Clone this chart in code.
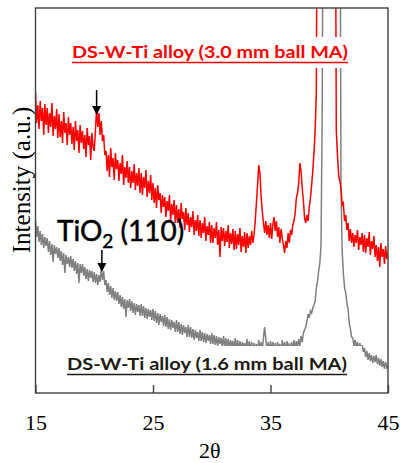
<!DOCTYPE html>
<html>
<head>
<meta charset="utf-8">
<script src="https://cdn.jsdelivr.net/npm/d3@7"></script>
<style>
  body { margin: 0; background: #fff; }
  svg { display: block; }
</style>
</head>
<body>
<div id="chart"></div>
<script>
// XRD scan: 2θ from 15 to 45 in 0.1 steps
const scanStart = 15
const scanStep = 0.1
const xTicks = [15, 25, 35, 45]

// DS-W-Ti alloy (3.0 mm ball MA), one row per degree (600 = off scale)
const red30 = [
  301, 270, 288, 264, 292, 272, 285, 258, 289, 268,
  285, 260, 280, 266, 290, 257, 277, 264, 284, 255,
  279, 256, 272, 250, 281, 260, 270, 248, 276, 258,
  270, 249, 266, 243, 272, 252, 263, 240, 268, 250,
  262, 244, 258, 236, 265, 248, 257, 233, 260, 246,
  242, 262, 285, 266, 280, 258, 272, 252, 258, 238,
  242, 222, 238, 216, 245, 226, 235, 213, 240, 224,
  233, 212, 230, 219, 238, 208, 226, 215, 232, 210,
  226, 205, 222, 210, 229, 203, 220, 207, 225, 200,
  220, 198, 216, 205, 223, 196, 212, 200, 218, 193,
  210, 190, 205, 185, 208, 193, 200, 180, 198, 186,
  196, 176, 192, 182, 198, 172, 189, 178, 193, 170,
  188, 170, 184, 165, 190, 174, 181, 163, 185, 168,
  180, 161, 176, 166, 182, 158, 173, 162, 178, 157,
  173, 155, 170, 160, 176, 152, 167, 158, 171, 150,
  168, 150, 165, 155, 171, 148, 163, 136, 166, 152,
  165, 147, 162, 151, 168, 145, 160, 149, 164, 143,
  162, 144, 159, 148, 165, 141, 157, 146, 161, 140,
  160, 145, 157, 148, 162, 150, 158, 172, 190, 208,
  228, 220, 196, 182, 170, 160, 172, 158, 168, 155,
  170, 154, 168, 176, 162, 172, 156, 166, 150, 164,
  155, 148, 140, 152, 145, 160, 150, 163, 158, 168,
  172, 180, 195, 200, 210, 230, 222, 205, 192, 175,
  170, 178, 172, 186, 195, 208, 222, 240, 262, 300,
  600, 600, 600, 600, 600, 600, 600, 600, 600, 600,
  600, 600, 600, 600, 600, 600, 262, 238, 218, 212,
  205, 188, 190, 172, 178, 163, 170, 152, 164, 150,
  160, 146, 158, 150, 163, 143, 156, 148, 160, 141,
  158, 140, 155, 146, 161, 138, 152, 144, 157, 136,
  148, 132, 146, 126, 150, 136, 144, 129, 147, 134,
  140
]

// DS-W-Ti alloy (1.6 mm ball MA)
const gray16 = [
  173, 156, 167, 151, 162, 148, 159, 145, 156, 147,
  155, 141, 152, 138, 149, 131, 148, 139, 146, 135,
  145, 132, 142, 128, 140, 120, 138, 129, 136, 126,
  137, 125, 134, 122, 132, 119, 130, 110, 129, 120,
  129, 117, 126, 114, 124, 112, 123, 115, 122, 111,
  121, 110, 119, 108, 118, 111, 124, 113, 122, 108,
  113, 101, 110, 98, 107, 95, 105, 93, 102, 92,
  101, 89, 98, 86, 96, 84, 94, 76, 93, 85,
  94, 82, 92, 80, 90, 78, 89, 81, 88, 77,
  89, 77, 87, 75, 85, 74, 84, 76, 83, 73,
  84, 72, 82, 70, 80, 68, 79, 71, 77, 67,
  78, 66, 76, 64, 74, 63, 73, 65, 71, 61,
  73, 61, 71, 59, 69, 58, 68, 60, 66, 56,
  68, 56, 66, 55, 64, 53, 63, 55, 61, 52,
  63, 52, 61, 51, 60, 50, 59, 52, 58, 49,
  60, 49, 58, 48, 57, 47, 56, 49, 55, 46,
  57, 46, 55, 45, 54, 44, 53, 46, 52, 43,
  55, 44, 53, 43, 52, 42, 51, 44, 50, 42,
  54, 43, 52, 42, 51, 41, 50, 43, 49, 41,
  53, 42, 51, 43, 55, 66, 54, 42, 51, 41,
  52, 42, 51, 41, 50, 40, 51, 43, 49, 41,
  53, 42, 51, 41, 52, 43, 50, 40, 51, 42,
  53, 43, 52, 45, 54, 47, 57, 51, 60, 63,
  66, 72, 79, 75, 82, 80, 85, 88, 92, 105,
  112, 122, 130, 148, 280, 600, 600, 600, 600, 600,
  600, 600, 600, 600, 600, 600, 600, 600, 600, 600,
  205, 142, 120, 106, 100, 90, 84, 70, 64, 56,
  55, 47, 53, 45, 51, 43, 50, 44, 48, 41,
  45, 36, 42, 33, 40, 32, 38, 30, 37, 31,
  38, 29, 35, 27, 34, 26, 32, 24, 31, 25,
  27
]

const width = 400
const height = 463
const margin = { top: 8, right: 12, bottom: 70, left: 35.5 }

const svg = d3
  .select('#chart')
  .append('svg')
  .attr('width', width)
  .attr('height', height)

const x = d3
  .scaleLinear()
  .domain([15, 45])
  .range([margin.left, width - margin.right])
const y = d3
  .scaleLinear()
  .domain([0, 385])
  .range([height - margin.bottom, margin.top])

svg
  .append('clipPath')
  .attr('id', 'plot-clip')
  .append('rect')
  .attr('x', margin.left)
  .attr('y', margin.top)
  .attr('width', x(45) - x(15))
  .attr('height', y(0) - y(385))

const toPoints = vals => vals.map((v, i) => [scanStart + i * scanStep, v])
const line = d3
  .line()
  .x(d => x(d[0]))
  .y(d => y(d[1]))

const plot = svg.append('g').attr('clip-path', 'url(#plot-clip)')
plot
  .append('path')
  .attr('d', line(toPoints(gray16)))
  .attr('fill', 'none')
  .attr('stroke', '#808080')
  .attr('stroke-width', 1.5)
plot
  .append('path')
  .attr('d', line(toPoints(red30)))
  .attr('fill', 'none')
  .attr('stroke', '#ff0000')
  .attr('stroke-width', 1.5)

// frame
svg
  .append('rect')
  .attr('x', x(15))
  .attr('y', y(385))
  .attr('width', x(45) - x(15))
  .attr('height', y(0) - y(385))
  .attr('fill', 'none')
  .attr('stroke', '#404040')
  .attr('stroke-width', 1.4)

// X axis, ticks pointing in
const xAxis = svg
  .append('g')
  .attr('transform', 'translate(0,' + y(0) + ')')
  .call(
    d3
      .axisBottom(x)
      .tickValues(xTicks)
      .tickSize(-8)
      .tickPadding(21)
      .tickFormat(d3.format('d'))
  )
xAxis.select('.domain').remove()
xAxis.selectAll('line').attr('stroke', '#404040').attr('stroke-width', 1.4)
xAxis
  .selectAll('text')
  .attr('font-family', '"Liberation Serif", "Times New Roman", serif')
  .attr('font-size', 22)
  .attr('fill', '#000')

svg
  .append('text')
  .attr('x', (x(15) + x(45)) / 2 - 2)
  .attr('y', 458)
  .attr('text-anchor', 'middle')
  .attr('font-family', '"Liberation Serif", "Times New Roman", serif')
  .attr('font-size', 22)
  .text('2θ')

svg
  .append('text')
  .attr('transform', 'translate(30,180) rotate(-90)')
  .attr('text-anchor', 'middle')
  .attr('font-family', '"Liberation Serif", "Times New Roman", serif')
  .attr('font-size', 25)
  .text('Intensity (a.u.)')

// series labels on white boxes, underlined
function seriesLabel(txt, cx, baseline, len, color, box) {
  svg
    .append('rect')
    .attr('x', box[0])
    .attr('y', box[1])
    .attr('width', box[2] - box[0])
    .attr('height', box[3] - box[1])
    .attr('fill', '#fff')
  svg
    .append('text')
    .attr('x', cx)
    .attr('y', baseline)
    .attr('text-anchor', 'middle')
    .attr('font-family', 'Lato, "Open Sans", sans-serif')
    .attr('font-weight', 'bold')
    .attr('font-size', 17)
    .attr('fill', color)
    .attr('textLength', len)
    .attr('lengthAdjust', 'spacingAndGlyphs')
    .text(txt)
  svg
    .append('line')
    .attr('x1', cx - len / 2)
    .attr('x2', cx + len / 2)
    .attr('y1', baseline + 4.5)
    .attr('y2', baseline + 4.5)
    .attr('stroke', color)
    .attr('stroke-width', 1.5)
}
seriesLabel('DS-W-Ti alloy (3.0 mm ball MA)', 210, 58, 276, '#ff0000', [62, 37, 355, 68])
seriesLabel('DS-W-Ti alloy (1.6 mm ball MA)', 207, 370, 280, '#1e1a14', [60, 346, 362, 380])

// TiO2 (110) annotation
const tio2 = svg
  .append('text')
  .attr('x', 57)
  .attr('y', 241)
  .attr('font-family', 'Lato, "Open Sans", sans-serif')
  .attr('font-size', 28)
  .attr('fill', '#000')
  .attr('stroke', '#000')
  .attr('stroke-width', 0.5)
tio2.append('tspan').text('TiO')
tio2.append('tspan').attr('font-size', 19).attr('dy', 7).text('2')
tio2.append('tspan').attr('dy', -7).text(' (110)')

function arrow(deg, top, tip) {
  const ax = x(deg)
  svg
    .append('line')
    .attr('x1', ax)
    .attr('x2', ax)
    .attr('y1', y(top))
    .attr('y2', y(tip) - 6)
    .attr('stroke', '#000')
    .attr('stroke-width', 1.5)
  svg
    .append('path')
    .attr('d', `M${ax - 4.5},${y(tip) - 9}L${ax + 4.5},${y(tip) - 9}L${ax},${y(tip)}Z`)
    .attr('fill', '#000')
}
arrow(20.2, 303, 278)
arrow(20.65, 143, 121)
</script>
</body>
</html>
